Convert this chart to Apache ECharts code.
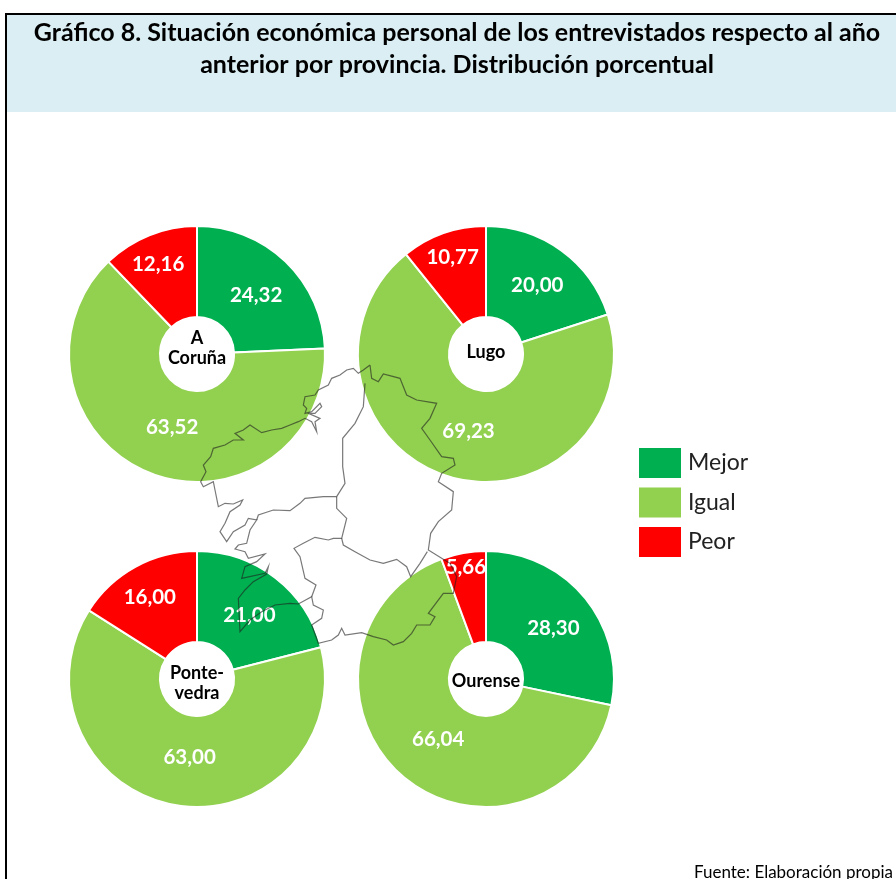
<!DOCTYPE html>
<html><head><meta charset="utf-8">
<style>html,body{margin:0;padding:0;background:#fff}#c{width:896px;height:879px}</style>
<script src="https://cdn.jsdelivr.net/npm/echarts@6/dist/echarts.min.js"></script>
</head><body><div id="c"></div>
<script>
const titleLines = ['Gráfico 8. Situación económica personal de los entrevistados respecto al año','anterior por provincia. Distribución porcentual'];
const categories = ['Mejor','Igual','Peor'];
const provinces = ['A\nCoruña','Lugo','Ponte-\nvedra','Ourense'];
const aCoruna = [24.32,63.52,12.16];
const lugo = [20.00,69.23,10.77];
const pontevedra = [21.00,63.00,16.00];
const ourense = [28.30,66.04,5.66];
const colors = ['#00B050','#92D050','#FF0000'];
const source = 'Fuente: Elaboración propia';

// Background outline of Galicia, traced in a 3x crop of the picture
const outerOutline = [[540,45],[520,60],[505,70],[490,55],[470,60],[450,75],[425,85],[415,105],[385,120],[375,135],[345,140],[340,165],[350,175],[345,190],[365,185],[390,160],[395,170],[375,190],[355,190],[390,205],[375,215],[380,245],[365,215],[345,205],[325,215],[300,225],[275,235],[245,240],[215,248],[180,225],[160,240],[135,250],[160,270],[130,270],[105,285],[70,295],[62,320],[40,345],[48,365],[32,395],[40,410],[70,395],[75,420],[85,470],[105,460],[130,462],[158,450],[150,465],[120,485],[105,520],[90,545],[110,575],[130,545],[165,525],[175,505],[200,510],[180,540],[170,580],[145,585],[135,597],[165,605],[175,625],[225,612],[200,635],[165,650],[155,685],[225,670],[235,650],[230,672],[190,695],[165,720],[145,745],[150,845],[180,810],[215,785],[255,765],[300,760],[325,762],[365,740],[370,765],[400,780],[395,805],[365,825],[385,880],[425,870],[445,855],[455,835],[465,855],[515,848],[550,860],[590,870],[610,885],[640,875],[665,850],[680,825],[720,825],[735,800],[715,790],[760,730],[790,730],[800,680],[780,640],[755,625],[715,600],[722,550],[745,515],[785,480],[790,425],[745,395],[755,370],[795,345],[790,325],[755,320],[720,270],[695,235],[720,205],[740,160],[680,150],[650,135],[630,85],[580,72],[565,95],[545,85],[540,45]];
const border1 = [[525,100],[520,170],[495,220],[458,265],[458,350],[465,400],[440,440],[400,440],[345,445],[330,460],[300,482],[250,480],[205,495],[200,510]];
const border2 = [[440,440],[440,475],[470,505],[455,565],[430,565],[415,570],[375,562],[340,580],[312,595],[330,620],[345,685],[378,705],[365,740]];
const border3 = [[455,565],[460,585],[495,605],[540,630],[580,640],[620,628],[650,650],[662,680],[690,640],[712,605]];

const pieCenters = [[197,354],[486,354],[197,679],[486,679]];
const labelOffsets = [
  [[0,3],[7,-6],[-7,-10]],
  [[1,1],[7,-5],[-5,-16]],
  [[0,4],[6,-6],[-6,-7]],
  [[1,3],[8,-4],[-5,-27]]
];
const centerNudge = [-6,-2,4,2];
const seriesValues = [aCoruna,lugo,pontevedra,ourense];
const FONT = 'Lato';

const series = seriesValues.map((vals,i)=>({
  type:'pie', center:pieCenters[i], radius:[37,128], startAngle:90, clockwise:true,
  animation:false, silent:true,
  itemStyle:{borderColor:'#fff',borderWidth:2},
  labelLine:{show:false},
  label:{show:true,position:'inside',color:'#fff',fontFamily:FONT,fontWeight:'bold',fontSize:20.5,
    formatter:p=>p.value.toFixed(2).replace('.',',')},
  data:vals.map((v,j)=>({name:categories[j],value:v,itemStyle:{color:colors[j]},label:{offset:labelOffsets[i][j]}}))
}));

const mapLine = pts => ({type:'polyline',z:50,silent:true,
  shape:{points:pts.map(p=>[190+p[0]/3,350+p[1]/3])},
  style:{stroke:'rgba(30,30,30,0.6)',lineWidth:1.2,fill:null}});

const graphic = [
  {type:'rect',z:-10,shape:{x:5,y:14,width:891,height:98},style:{fill:'#DAEEF3'}},
  {type:'line',z:-5,shape:{x1:5,y1:14,x2:896,y2:14},style:{stroke:'#000',lineWidth:2}},
  {type:'line',z:-5,shape:{x1:6,y1:14,x2:6,y2:879},style:{stroke:'#000',lineWidth:2}},
  mapLine(outerOutline),mapLine(border1),mapLine(border2),mapLine(border3),
  ...provinces.map((t,i)=>({type:'text',z:60,silent:true,x:pieCenters[i][0],y:pieCenters[i][1]+centerNudge[i],
    style:{text:t,align:'center',verticalAlign:'middle',fill:'#000',fontFamily:FONT,fontWeight:'bold',fontSize:18,lineHeight:20}})),
  {type:'text',z:60,x:893,y:873,style:{text:source,align:'right',verticalAlign:'middle',fill:'#000',fontFamily:FONT,fontSize:17}}
];

const chart = echarts.init(document.getElementById('c'),null,{renderer:'canvas'});
chart.setOption({
  animation:false, backgroundColor:'#fff',
  title:titleLines.map((t,i)=>({text:t,left:452,top:15+i*32,textAlign:'center',
    textStyle:{fontFamily:FONT,fontWeight:'bold',fontSize:25,color:'#000'}})),
  legend:{orient:'vertical',left:639,top:448,padding:0,itemWidth:42,itemHeight:30,itemGap:9.5,data:categories,icon:'rect',
    itemStyle:{borderWidth:0},
    textStyle:{fontFamily:FONT,fontSize:23,color:'#222',padding:[0,0,0,2]},selectedMode:false},
  series, graphic
});
</script></body></html>
